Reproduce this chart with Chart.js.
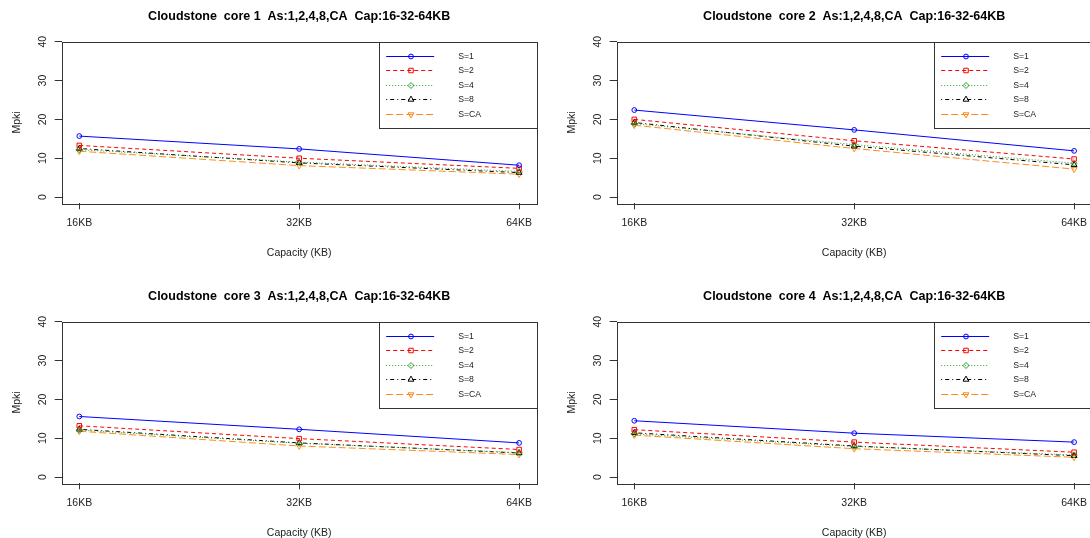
<!DOCTYPE html>
<html>
<head>
<meta charset="utf-8">
<script src="https://cdn.jsdelivr.net/npm/chart.js"></script>
<style>
html, body { margin: 0; padding: 0; background: #fff; overflow: hidden; width: 1090px; height: 538px; }
canvas { position: absolute; }
</style>
</head>
<body>
<canvas id="core1" width="555" height="281" style="left:0px;top:0px"></canvas>
<canvas id="core2" width="555" height="281" style="left:555px;top:0px"></canvas>
<canvas id="core3" width="555" height="281" style="left:0px;top:280px"></canvas>
<canvas id="core4" width="555" height="281" style="left:555px;top:280px"></canvas>
<script>
// data (Mpki), one row per series S=1,S=2,S=4,S=8,S=CA
const capacityLabels = ['16KB', '32KB', '64KB'];
const seriesNames = ['S=1', 'S=2', 'S=4', 'S=8', 'S=CA'];
const yTicks = [0, 10, 20, 30, 40];

const core1 = [
  [15.7, 12.4, 8.2],
  [13.3, 10.0, 7.4],
  [12.2, 9.0, 6.6],
  [12.5, 8.8, 6.3],
  [11.8, 8.1, 5.9]
];
const core2 = [
  [22.4, 17.3, 11.9],
  [20.0, 14.5, 9.8],
  [18.9, 13.5, 8.7],
  [19.2, 13.1, 8.3],
  [18.5, 12.5, 7.2]
];
const core3 = [
  [15.6, 12.3, 8.8],
  [13.2, 9.9, 7.1],
  [12.1, 8.7, 6.3],
  [12.3, 8.8, 6.2],
  [11.8, 8.0, 5.8]
];
const core4 = [
  [14.5, 11.3, 9.0],
  [12.2, 9.0, 6.4],
  [11.1, 7.9, 5.7],
  [11.4, 8.0, 5.5],
  [10.8, 7.3, 5.1]
];

const FONT = '"Liberation Sans", Arial, sans-serif';

// R style lines: lty 1..5, pch 1,0,5,2,6
const styles = [
  { color: '#0000ff', dash: [], point: 'circle', radius: 2.4, rotation: 0 },
  { color: '#ff0000', dash: [4, 3], point: 'rect', radius: 3.2, rotation: 0 },
  { color: '#2aa52a', dash: [1, 2], point: 'rectRot', radius: 3.0, rotation: 0 },
  { color: '#000000', dash: [1, 3, 4, 3], point: 'triangle', radius: 3.4, rotation: 0 },
  { color: '#ff8c1a', dash: [7, 3], point: 'triangle', radius: 3.4, rotation: 180 }
];

// box, rotated y labels and the legend in the top right corner
const rPlotPlugin = {
  id: 'rPlot',
  afterDatasetsDraw(chart) {
    const ctx = chart.ctx;
    const area = chart.chartArea;
    const yScale = chart.scales.y;
    ctx.save();
    ctx.strokeStyle = '#333';
    ctx.lineWidth = 1;
    ctx.setLineDash([]);
    ctx.strokeRect(Math.round(area.left) + 0.5, Math.round(area.top) + 0.5,
      Math.round(area.right - area.left), Math.round(area.bottom - area.top));

    // y tick labels, written upward like R's las=0
    ctx.fillStyle = '#222';
    ctx.font = '10.5px ' + FONT;
    ctx.textAlign = 'center';
    ctx.textBaseline = 'middle';
    yTicks.forEach(v => {
      const y = yScale.getPixelForValue(v);
      ctx.save();
      ctx.translate(area.left - 19, y);
      ctx.rotate(-Math.PI / 2);
      ctx.fillText(String(v), 0, 0);
      ctx.restore();
    });

    // legend
    const lw = 157.5, lh = 86;
    const lx = area.right - lw, ly = area.top;
    ctx.fillStyle = '#fff';
    ctx.fillRect(lx, ly, lw, lh);
    ctx.strokeStyle = '#333';
    ctx.strokeRect(Math.round(lx) + 0.5, Math.round(ly) + 0.5, Math.round(lw), Math.round(lh));
    ctx.font = '8.7px ' + FONT;
    ctx.textAlign = 'left';
    chart.data.datasets.forEach((ds, i) => {
      const st = styles[i];
      const cy = Math.round(ly + 13.8 + i * 14.65) + 0.5;
      ctx.lineWidth = 1;
      ctx.strokeStyle = st.color;
      ctx.setLineDash(st.dash);
      ctx.beginPath();
      ctx.moveTo(lx + 7, cy);
      ctx.lineTo(lx + 55, cy);
      ctx.stroke();
      ctx.setLineDash([]);
      ctx.fillStyle = 'rgba(0,0,0,0)';
      ctx.strokeStyle = st.color;
      Chart.helpers.drawPoint(ctx, {
        pointStyle: st.point, rotation: st.rotation, radius: st.radius, borderWidth: 1
      }, lx + 31.8, cy);
      ctx.fillStyle = '#222';
      ctx.fillText(ds.label, lx + 79, cy);
    });
    ctx.restore();
  }
};

function makePanel(id, title, values) {
  const datasets = values.map((row, i) => ({
    label: seriesNames[i],
    data: row.map((v, j) => ({ x: j, y: v })),
    borderColor: styles[i].color,
    borderWidth: 1,
    borderDash: styles[i].dash,
    pointStyle: styles[i].point,
    pointRotation: styles[i].rotation,
    pointRadius: styles[i].radius,
    pointBorderColor: styles[i].color,
    pointBackgroundColor: 'rgba(0,0,0,0)',
    pointBorderWidth: 1,
    fill: false,
    tension: 0
  }));

  new Chart(document.getElementById(id), {
    type: 'line',
    data: { datasets },
    plugins: [rPlotPlugin],
    options: {
      responsive: false,
      animation: false,
      events: [],
      layout: { padding: { left: 0, right: 18.3, top: 0, bottom: 0 } },
      plugins: {
        legend: { display: false },
        tooltip: { enabled: false },
        title: {
          display: true,
          fullSize: false,
          text: title,
          color: '#000',
          font: { family: FONT, size: 12.5, weight: 'bold' },
          padding: { top: 8.7, bottom: 18 }
        }
      },
      scales: {
        x: {
          type: 'linear',
          min: -0.08,
          max: 2.08,
          afterBuildTicks: s => { s.ticks = capacityLabels.map((_, i) => ({ value: i })); },
          afterFit: s => { s.height = 77.7; },
          ticks: {
            color: '#222',
            font: { family: FONT, size: 10.5 },
            padding: 8,
            maxRotation: 0,
            callback: v => capacityLabels[v]
          },
          grid: { drawOnChartArea: false, drawTicks: true, tickLength: 6, color: '#333' },
          border: { display: false },
          title: {
            display: true,
            text: 'Capacity (KB)',
            color: '#222',
            font: { family: FONT, size: 10.5 },
            padding: { top: 0, bottom: 21.3 }
          }
        },
        y: {
          min: -1.6,
          max: 40,
          afterBuildTicks: s => { s.ticks = yTicks.map(v => ({ value: v })); },
          afterFit: s => { s.width = 61.7; },
          ticks: { display: false },
          grid: { drawOnChartArea: false, drawTicks: true, tickLength: 7, color: '#333' },
          border: { display: false },
          title: {
            display: true,
            text: 'Mpki',
            color: '#222',
            font: { family: FONT, size: 10.5 },
            padding: { top: 10.4, bottom: 0 }
          }
        }
      }
    }
  });
}

makePanel('core1', 'Cloudstone  core 1  As:1,2,4,8,CA  Cap:16-32-64KB', core1);
makePanel('core2', 'Cloudstone  core 2  As:1,2,4,8,CA  Cap:16-32-64KB', core2);
makePanel('core3', 'Cloudstone  core 3  As:1,2,4,8,CA  Cap:16-32-64KB', core3);
makePanel('core4', 'Cloudstone  core 4  As:1,2,4,8,CA  Cap:16-32-64KB', core4);
</script>
</body>
</html>
